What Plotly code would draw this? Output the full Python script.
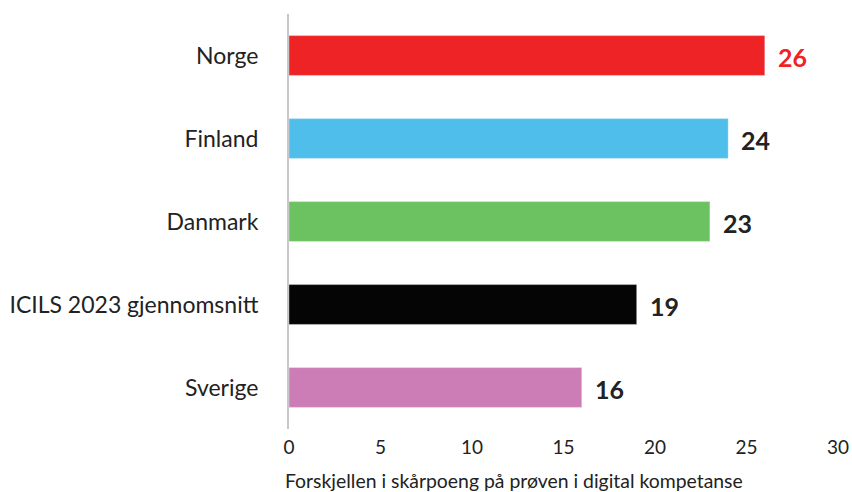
import plotly.graph_objects as go

categories = ["Norge", "Finland", "Danmark", "ICILS 2023 gjennomsnitt", "Sverige"]
values = [26, 24, 23, 19, 16]
bar_colors = ["#EE2326", "#4FBEEB", "#6CC160", "#050505", "#CC7DB5"]
label_colors = ["#EE2326", "#222222", "#222222", "#222222", "#222222"]
x_ticks = [0, 5, 10, 15, 20, 25, 30]
x_title = "Forskjellen i skårpoeng på prøven i digital kompetanse"

fig = go.Figure()
fig.add_trace(go.Bar(
    y=categories, x=values, orientation="h",
    marker=dict(color=bar_colors, line=dict(color="rgba(255,255,255,0.35)", width=1)),
    width=0.48, hoverinfo="skip",
))

for c, v, col in zip(categories, values, label_colors):
    fig.add_annotation(x=v, y=c, text=f"<b>{v}</b>", showarrow=False,
                       xanchor="left", xshift=11, yshift=-1,
                       font=dict(family="Lato", size=25, color=col))

fig.add_annotation(xref="paper", yref="paper", x=-0.011, y=-0.123,
                   xanchor="left", yanchor="middle", showarrow=False,
                   text=x_title, font=dict(family="Lato", size=19.4, color="#222222"))

fig.update_layout(
    width=852, height=492,
    margin=dict(l=289, r=14, t=14, b=63),
    paper_bgcolor="white", plot_bgcolor="white",
    showlegend=False,
    font=dict(family="Lato", color="#222222"),
)
fig.update_yaxes(
    categoryorder="array", categoryarray=categories[::-1],
    showline=True, linecolor="#C8C8C8", linewidth=2,
    ticks="", showgrid=False, zeroline=False, automargin=False,
    tickfont=dict(family="Lato", size=23, color="#222222"),
    ticklabelstandoff=24,
)
fig.update_xaxes(
    range=[0, 30], tickvals=x_ticks, ticktext=[str(t) for t in x_ticks],
    showgrid=False, zeroline=False, showline=False, ticks="", automargin=False,
    tickfont=dict(family="Lato", size=19, color="#222222"),
    ticklabelstandoff=5,
)

fig.write_html("out.html", config={"displayModeBar": False},
               post_script="document.body.style.margin='0px';document.body.style.overflow='hidden';")
